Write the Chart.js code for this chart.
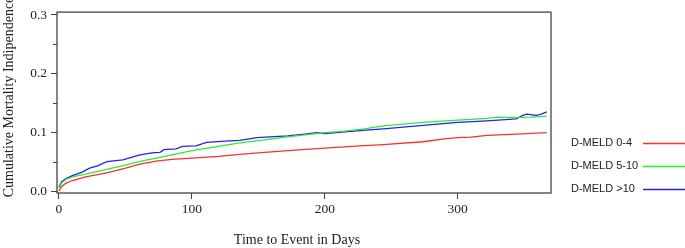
<!DOCTYPE html>
<html lang="en">
<head>
<meta charset="utf-8" />
<title>Cumulative Mortality</title>
<script src="https://cdn.jsdelivr.net/npm/chart.js"></script>
<style>
  html, body { margin: 0; padding: 0; background: #fff; }
  #wrap { width: 685px; height: 248px; }
</style>
</head>
<body>
<div id="wrap"><canvas id="chart" width="685" height="248"></canvas></div>
<script>
    // values, days vs cumulative value
    const labels = ['D-MELD 0-4', 'D-MELD 5-10', 'D-MELD >10'];
    const colors = ['rgb(255,45,45)', 'rgb(45,235,45)', 'rgb(35,35,235)'];

    const redDays = [0, 2, 5, 10, 20, 36, 50, 61, 73, 85, 100, 120, 136, 150, 172, 200, 220, 244, 274, 290, 300, 310, 322, 344, 367];
    const redVals = [0.0, 0.008, 0.013, 0.018, 0.024, 0.031, 0.039, 0.046, 0.051, 0.054, 0.056, 0.059, 0.0625, 0.065, 0.069, 0.073, 0.076, 0.079, 0.084, 0.089, 0.091, 0.092, 0.095, 0.097, 0.0995];

    const greenDays = [0, 2, 6, 11, 20, 36, 50, 61, 75, 86, 100, 120, 136, 150, 172, 200, 215, 231, 244, 274, 300, 322, 330, 344, 355, 367];
    const greenVals = [0.005, 0.014, 0.021, 0.0245, 0.029, 0.037, 0.044, 0.0505, 0.057, 0.062, 0.069, 0.076, 0.082, 0.086, 0.0925, 0.0995, 0.102, 0.1065, 0.111, 0.117, 0.121, 0.124, 0.126, 0.125, 0.126, 0.1277];

    const blueDays = [0, 2, 6, 11, 17, 23, 29, 36, 48, 55, 61, 70, 76, 79, 88, 93, 103, 111, 125, 136, 149, 172, 185, 194, 200, 226, 244, 274, 300, 322, 344, 349, 352, 359, 363, 367];
    const blueVals = [0.007, 0.016, 0.022, 0.027, 0.032, 0.039, 0.043, 0.050, 0.053, 0.058, 0.0615, 0.065, 0.066, 0.0706, 0.072, 0.076, 0.077, 0.083, 0.085, 0.0865, 0.091, 0.094, 0.097, 0.0995, 0.098, 0.103, 0.106, 0.112, 0.117, 0.1195, 0.123, 0.129, 0.131, 0.129, 0.131, 0.135];

    const xTicks = [0, 100, 200, 300];
    const yTicks = [0, 0.1, 0.2, 0.3];
    const yMinorTicks = [0.05, 0.15, 0.25];

    const xTitle = 'Time to Event in Days';
    const yTitle = 'Cumulative Mortality Indipendence';

    function toPoints(days, vals) {
        return days.map(function (d, i) { return { x: d, y: vals[i] }; });
    }

    const seriesList = [
        toPoints(redDays, redVals),
        toPoints(greenDays, greenVals),
        toPoints(blueDays, blueVals)
    ];

    const serif = '"Liberation Serif", "Times New Roman", serif';
    const sans = '"Liberation Sans", Arial, sans-serif';
    const axisColor = '#444';

    // box, minor ticks, axis titles and the legend on the right
    const extras = {
        id: 'extras',
        afterDraw: function (chart) {
            const ctx = chart.ctx;
            const area = chart.chartArea;
            const yScale = chart.scales.y;
            ctx.save();
            ctx.strokeStyle = axisColor;
            ctx.lineWidth = 1.3;
            ctx.strokeRect(area.left, area.top, area.right - area.left, area.bottom - area.top);

            ctx.beginPath();
            yMinorTicks.forEach(function (v) {
                const py = Math.round(yScale.getPixelForValue(v)) + 0.5;
                ctx.moveTo(area.left - 4, py);
                ctx.lineTo(area.left, py);
            });
            ctx.lineWidth = 1;
            ctx.stroke();

            ctx.fillStyle = '#222';
            ctx.font = '14px ' + serif;
            ctx.textAlign = 'center';
            ctx.textBaseline = 'middle';
            ctx.fillText(xTitle, 297, 240);

            ctx.translate(9, 97);
            ctx.rotate(-Math.PI / 2);
            ctx.fillText(yTitle, 0, 0);
            ctx.restore();

            ctx.save();
            ctx.font = '11px ' + sans;
            ctx.textAlign = 'left';
            ctx.textBaseline = 'middle';
            const rows = [143, 166, 189];
            labels.forEach(function (name, i) {
                ctx.fillStyle = '#222';
                ctx.fillText(name, 571, rows[i]);
                ctx.strokeStyle = colors[i];
                ctx.lineWidth = 1.3;
                ctx.beginPath();
                ctx.moveTo(643, rows[i] + 0.5);
                ctx.lineTo(685, rows[i] + 0.5);
                ctx.stroke();
            });
            ctx.restore();
        }
    };

    const config = {
        type: 'scatter',
        data: {
            datasets: seriesList.map(function (pts, i) {
                return {
                    label: labels[i],
                    data: pts,
                    showLine: true,
                    borderColor: colors[i],
                    backgroundColor: colors[i],
                    borderWidth: 1.3,
                    pointRadius: 0,
                    tension: 0
                };
            })
        },
        options: {
            responsive: false,
            animation: false,
            layout: { padding: { top: 4, right: 134, left: 0, bottom: 0 } },
            plugins: {
                legend: { display: false },
                tooltip: { enabled: false }
            },
            scales: {
                x: {
                    type: 'linear',
                    min: -1.5,
                    max: 370.2,
                    afterBuildTicks: function (scale) {
                        scale.ticks = xTicks.map(function (v) { return { value: v }; });
                    },
                    afterFit: function (scale) { scale.height = 55; },
                    border: { display: false },
                    grid: {
                        drawOnChartArea: false,
                        drawTicks: true,
                        tickLength: 6,
                        tickColor: axisColor,
                        tickWidth: 1
                    },
                    ticks: {
                        color: '#222',
                        padding: 2,
                        maxRotation: 0,
                        font: { family: serif, size: 13.5 },
                        callback: function (v) { return String(v); }
                    }
                },
                y: {
                    type: 'linear',
                    min: -0.0033,
                    max: 0.3049,
                    afterBuildTicks: function (scale) {
                        scale.ticks = yTicks.map(function (v) { return { value: v }; });
                    },
                    afterFit: function (scale) { scale.width = 57; },
                    border: { display: false },
                    grid: {
                        drawOnChartArea: false,
                        drawTicks: true,
                        tickLength: 6,
                        tickColor: axisColor,
                        tickWidth: 1
                    },
                    ticks: {
                        color: '#222',
                        padding: 4,
                        font: { family: serif, size: 13.5 },
                        callback: function (v) { return Number(v).toFixed(1); }
                    }
                }
            }
        },
        plugins: [extras]
    };

    new Chart(document.getElementById('chart'), config);
</script>
</body>
</html>
